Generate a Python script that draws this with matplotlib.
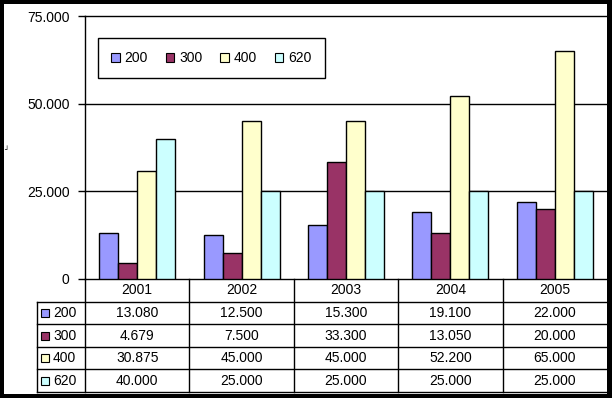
import matplotlib
matplotlib.use("Agg")
import matplotlib.pyplot as plt
from matplotlib.patches import Rectangle
from matplotlib.lines import Line2D
import numpy as np

categories = ["2001", "2002", "2003", "2004", "2005"]
series_names = ["200", "300", "400", "620"]
s200 = [13080, 12500, 15300, 19100, 22000]
s300 = [4679, 7500, 33300, 13050, 20000]
s400 = [30875, 45000, 45000, 52200, 65000]
s620 = [40000, 25000, 25000, 25000, 25000]
series = [s200, s300, s400, s620]
colors = ["#9999FF", "#993366", "#FFFFCC", "#CCFFFF"]
yticks = [0, 25000, 50000, 75000]

def fmt(v):
    return f"{v:,}".replace(",", ".")

W, H = 612, 398
fig = plt.figure(figsize=(W / 100, H / 100), dpi=100, facecolor="black")
plt.rcParams["font.family"] = ["Liberation Sans", "DejaVu Sans"]
FS = 10

def fx(px):
    return px / W

def fy(py):
    return 1 - py / H

# white inner area
fig.patches.append(Rectangle((fx(4), fy(394)), fx(607) - fx(4), fy(4) - fy(394),
                             transform=fig.transFigure, facecolor="white", edgecolor="none", zorder=-10))

x0, x1, ytop, ybot = 85, 607, 16, 279
ax = fig.add_axes([fx(x0), fy(ybot), fx(x1) - fx(x0), fy(ytop) - fy(ybot)])
ax.set_zorder(2)
ax.set_facecolor("none")
n = len(categories)
ax.set_xlim(-0.5, n - 0.5)
ax.set_ylim(0, 75000)
for s in ["top", "right"]:
    ax.spines[s].set_visible(False)
ax.spines["left"].set_color("black")
ax.spines["bottom"].set_color("black")
ax.spines["left"].set_linewidth(1)
ax.spines["bottom"].set_linewidth(1)
ax.set_yticks(yticks)
ax.set_yticklabels([fmt(v) for v in yticks], fontsize=FS)
ax.tick_params(axis="y", length=5, width=1, pad=6, color="black")
ax.set_xticks([])
for v in yticks[1:]:
    ax.axhline(v, color="black", lw=1, zorder=1, clip_on=False)

bw = 0.182
x = np.arange(n)
handles = []
for i, (vals, c, name) in enumerate(zip(series, colors, series_names)):
    ax.bar(x + (i - 1.5) * bw, vals, width=bw, color=c, edgecolor="black", lw=1, zorder=3)
    handles.append(Rectangle((0, 0), 1, 1, facecolor=c, edgecolor="black", lw=0.8))

leg = ax.legend(handles, series_names, ncol=4, loc="upper left",
                bbox_to_anchor=((98 - x0) / (x1 - x0), (ybot - 38) / (ybot - ytop)),
                borderaxespad=0, fancybox=False, edgecolor="black", framealpha=1,
                fontsize=FS, handlelength=0.6, handleheight=0.6, handletextpad=0.35,
                columnspacing=1.3, borderpad=0.95)
leg.get_frame().set_linewidth(1)
leg.set_zorder(5)

# data table
tb_left, tb_top, tb_bot = 37, 279, 392
rows = len(series) + 1
rh = (tb_bot - tb_top) / rows
cw = (x1 - x0) / n
tf = fig.transFigure

def line(xa, ya, xb, yb):
    fig.lines.append(Line2D([fx(xa), fx(xb)], [fy(ya), fy(yb)], color="black", lw=1, transform=tf))

for r in range(1, rows + 1):
    yy = tb_top + r * rh
    line(tb_left, yy, x1, yy)
line(x0, tb_top, x0, tb_bot)
for j in range(1, n):
    line(x0 + j * cw, tb_top, x0 + j * cw, tb_bot)
line(tb_left, tb_top + rh, tb_left, tb_bot)

for j, cat in enumerate(categories):
    fig.text(fx(x0 + (j + 0.5) * cw), fy(tb_top + 0.5 * rh), cat, ha="center", va="center", fontsize=FS)
for i, (vals, c, name) in enumerate(zip(series, colors, series_names)):
    yc = tb_top + (i + 1.5) * rh
    fig.patches.append(Rectangle((fx(41), fy(yc + 4)), fx(49) - fx(41), fy(yc - 4) - fy(yc + 4),
                                 transform=tf, facecolor=c, edgecolor="black", lw=0.8))
    fig.text(fx(53), fy(yc), name, ha="left", va="center", fontsize=FS)
    for j, v in enumerate(vals):
        fig.text(fx(x0 + (j + 0.5) * cw), fy(yc), fmt(v), ha="center", va="center", fontsize=FS)

# small stray mark at left edge (as in the reference)
fig.text(fx(4), fy(150), "\u2518", fontsize=5, family="DejaVu Sans", ha="left", va="center")

fig.savefig("out.png", dpi=100, facecolor="black")
